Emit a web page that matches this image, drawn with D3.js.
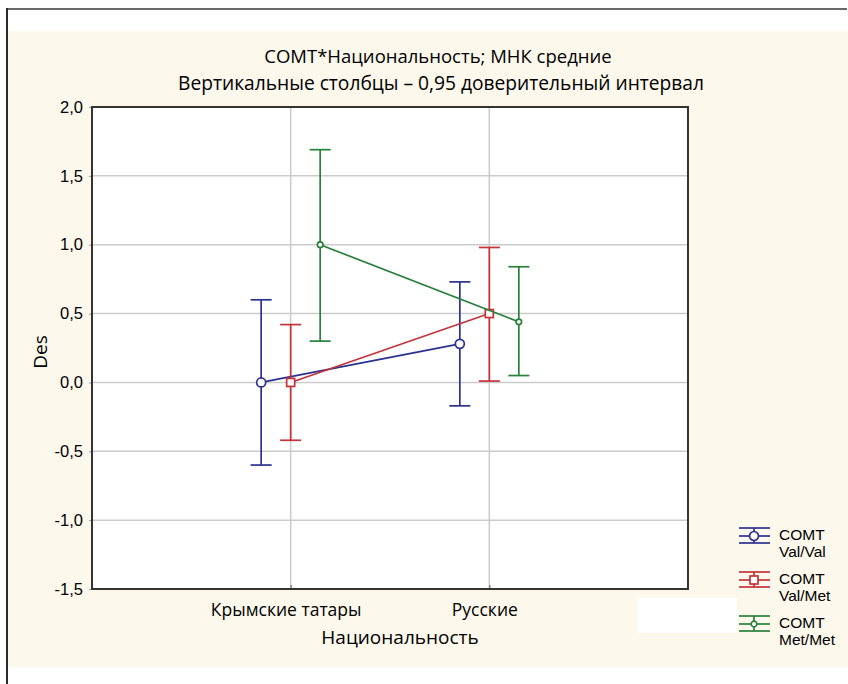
<!DOCTYPE html>
<html>
<head>
<meta charset="utf-8">
<script src="https://cdn.jsdelivr.net/npm/d3@7"></script>
<style>
  html, body { margin: 0; padding: 0; background: #ffffff; }
  svg { display: block; }
</style>
</head>
<body>
<svg id="chart" width="848" height="684"></svg>
<script>
// Group categories (x axis)
const categories = ["Крымские татары", "Русские"];

// COMT genotype series: least-squares means with 95% confidence limits
const seriesKeys = ["Val/Val", "Val/Met", "Met/Met"];
const valValMean = [0.00, 0.28];
const valValLow  = [-0.60, -0.17];
const valValHigh = [0.60, 0.73];
const valMetMean = [0.00, 0.50];
const valMetLow  = [-0.42, 0.01];
const valMetHigh = [0.42, 0.98];
const metMetMean = [1.00, 0.44];
const metMetLow  = [0.30, 0.05];
const metMetHigh = [1.69, 0.84];

// Axis ticks and labels
const yTicks = [-1.5, -1.0, -0.5, 0.0, 0.5, 1.0, 1.5, 2.0];
const titleLines = ["COMT*Национальность; МНК средние", "Вертикальные столбцы – 0,95 доверительный интервал"];
const xTitle = "Национальность";
const yTitle = "Des";
const legendPrefix = "COMT";

const series = [
  { key: seriesKeys[0], mean: valValMean, low: valValLow, high: valValHigh, color: "#2b318f", marker: "circle" },
  { key: seriesKeys[1], mean: valMetMean, low: valMetLow, high: valMetHigh, color: "#c4323a", marker: "square" },
  { key: seriesKeys[2], mean: metMetMean, low: metMetLow, high: metMetHigh, color: "#27813b", marker: "dot" }
];

const svg = d3.select("#chart");
const W = 848, H = 684;
const plot = { left: 92, top: 107, right: 688, bottom: 589 };

// page frame and tinted panel
svg.append("rect").attr("x", 7).attr("y", 31).attr("width", W - 7).attr("height", 636).attr("fill", "#fcf8ec");
svg.append("line").attr("x1", 6).attr("x2", 847).attr("y1", 9).attr("y2", 9).attr("stroke", "#6a6a6a").attr("stroke-width", 2);
svg.append("line").attr("x1", 7).attr("x2", 7).attr("y1", 8).attr("y2", H).attr("stroke", "#2a2a2a").attr("stroke-width", 2);
svg.append("rect").attr("x", 637).attr("y", 598).attr("width", 100).attr("height", 35).attr("fill", "#ffffff");

// scales
const x = d3.scalePoint().domain(categories).range([plot.left, plot.right]).padding(1);
const offset = d3.scalePoint().domain(seriesKeys).range([-29.5, 29.5]);
const y = d3.scaleLinear().domain([-1.5, 2.0]).range([plot.bottom, plot.top]);
const fmt = v => d3.format(".1f")(v).replace(".", ",").replace("−", "-");

// plot background
svg.append("rect").attr("x", plot.left).attr("y", plot.top)
  .attr("width", plot.right - plot.left).attr("height", plot.bottom - plot.top).attr("fill", "#ffffff");

// grid
const grid = svg.append("g").attr("stroke", "#cbcbcb").attr("stroke-width", 1.5);
grid.selectAll("line.h").data(yTicks).join("line")
  .attr("x1", plot.left).attr("x2", plot.right)
  .attr("y1", d => y(d)).attr("y2", d => y(d));
grid.selectAll("line.v").data(categories).join("line")
  .attr("x1", d => x(d)).attr("x2", d => x(d))
  .attr("y1", plot.top).attr("y2", plot.bottom);

// axes
const yAxis = svg.append("g").attr("transform", `translate(${plot.left},0)`)
  .call(d3.axisLeft(y).tickValues(yTicks).tickFormat(fmt).tickSize(3).tickPadding(6));
yAxis.select(".domain").remove();
yAxis.selectAll(".tick line").attr("stroke", "#999");
yAxis.selectAll(".tick text").attr("font-family", "'Liberation Sans', Arial, sans-serif")
  .attr("font-size", 16.5).attr("fill", "#000");

const xAxis = svg.append("g").attr("transform", `translate(0,${plot.bottom})`)
  .call(d3.axisBottom(x).tickSize(-4).tickPadding(12));
xAxis.select(".domain").remove();
xAxis.selectAll(".tick line").attr("stroke", "#555");
xAxis.selectAll(".tick text").attr("font-family", "'Open Sans', sans-serif")
  .attr("font-size", 17.5).attr("fill", "#000").attr("dx", -5).attr("dy", "0.85em");

// frame of plot area
svg.append("rect").attr("x", plot.left).attr("y", plot.top)
  .attr("width", plot.right - plot.left).attr("height", plot.bottom - plot.top)
  .attr("fill", "none").attr("stroke", "#333").attr("stroke-width", 2);

// series: connecting lines, error bars, markers
const capHalf = 10.5;
series.forEach(s => {
  const pts = categories.map((c, i) => ({
    cx: x(c) + offset(s.key), m: s.mean[i], lo: s.low[i], hi: s.high[i]
  }));
  const g = svg.append("g").attr("stroke", s.color).attr("fill", "none").attr("stroke-width", 1.7);
  g.append("path").attr("d", d3.line().x(p => p.cx).y(p => y(p.m))(pts));
  pts.forEach(p => {
    g.append("line").attr("x1", p.cx).attr("x2", p.cx).attr("y1", y(p.lo)).attr("y2", y(p.hi));
    g.append("line").attr("x1", p.cx - capHalf).attr("x2", p.cx + capHalf).attr("y1", y(p.hi)).attr("y2", y(p.hi));
    g.append("line").attr("x1", p.cx - capHalf).attr("x2", p.cx + capHalf).attr("y1", y(p.lo)).attr("y2", y(p.lo));
  });
  pts.forEach(p => drawMarker(g, s.marker, p.cx, y(p.m)));
});

function drawMarker(g, type, cx, cy) {
  if (type === "circle") {
    g.append("circle").attr("cx", cx).attr("cy", cy).attr("r", 4.5).attr("fill", "#ffffff");
  } else if (type === "square") {
    g.append("rect").attr("x", cx - 4).attr("y", cy - 4).attr("width", 8).attr("height", 8).attr("fill", "#ffffff");
  } else {
    g.append("circle").attr("cx", cx).attr("cy", cy).attr("r", 2.8).attr("fill", "#ffffff");
  }
}

// titles
const title = svg.append("g").attr("font-family", "'Open Sans', sans-serif").attr("fill", "#000")
  .attr("text-anchor", "middle");
title.append("text").attr("x", 438).attr("y", 63).attr("font-size", 18.5).text(titleLines[0]);
title.append("text").attr("x", 441).attr("y", 90).attr("font-size", 19.2).text(titleLines[1]);

svg.append("text").attr("x", 400).attr("y", 644).attr("text-anchor", "middle")
  .attr("font-family", "'Open Sans', sans-serif").attr("font-size", 19).attr("fill", "#000").text(xTitle);

svg.append("text").attr("transform", `translate(47,${(plot.top + plot.bottom) / 2 + 4}) rotate(-90)`)
  .attr("text-anchor", "middle").attr("font-family", "'Open Sans', sans-serif")
  .attr("font-size", 19).attr("fill", "#000").text(yTitle);

// legend
const legend = svg.append("g").attr("transform", "translate(754,536)");
series.forEach((s, i) => {
  const g = legend.append("g").attr("transform", `translate(0,${i * 44})`);
  const sg = g.append("g").attr("stroke", s.color).attr("fill", "none").attr("stroke-width", 1.7);
  [-8, 0, 7].forEach(dy => sg.append("line").attr("x1", -15).attr("x2", 16).attr("y1", dy).attr("y2", dy));
  sg.append("line").attr("x1", 0).attr("x2", 0).attr("y1", -8).attr("y2", 7);
  drawMarker(sg, s.marker, 0, 0);
  const t = g.append("text").attr("font-family", "'Liberation Sans', Arial, sans-serif")
    .attr("font-size", 15.5).attr("fill", "#000");
  t.append("tspan").attr("x", 25).attr("y", 4).text(legendPrefix);
  t.append("tspan").attr("x", 25).attr("y", 21).text(s.key);
});
</script>
</body>
</html>
